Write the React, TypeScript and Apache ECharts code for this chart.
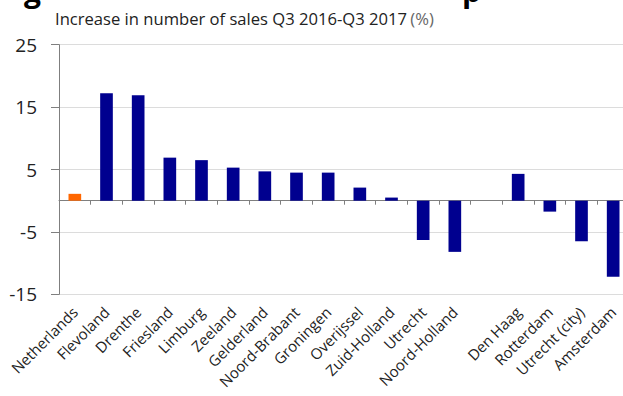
import { useEffect, useRef } from "react";
import * as echarts from "echarts";

const categories = [
  "Netherlands", "Flevoland", "Drenthe", "Friesland", "Limburg", "Zeeland",
  "Gelderland", "Noord-Brabant", "Groningen", "Overijssel", "Zuid-Holland",
  "Utrecht", "Noord-Holland", "", "Den Haag", "Rotterdam", "Utrecht (city)", "Amsterdam",
];
const salesIncrease = [
  1.1, 17.2, 16.9, 6.9, 6.5, 5.3, 4.7, 4.5, 4.5, 2.1, 0.5, -6.3, -8.2, null, 4.3, -1.75, -6.5, -12.2,
];
const highlighted = ["Netherlands"];
const yTicks = [-15, -5, 5, 15, 25];
const subtitleText = "Increase in number of sales Q3 2016-Q3 2017";
const subtitleUnit = "(%)";

const FONT = "'Open Sans', 'Noto Sans', sans-serif";

export default function App() {
  const ref = useRef<HTMLDivElement>(null);
  useEffect(() => {
    if (!ref.current) return;
    const chart = echarts.init(ref.current, undefined, { renderer: "svg" });
    chart.setOption({
      animation: false,
      textStyle: { fontFamily: FONT },
      grid: {
        left: 59,
        right: 1,
        top: 44.7,
        bottom: 101.7,
        containLabel: false,
        outerBoundsMode: "none",
      },
      graphic: [
        {
          type: "text",
          left: 24,
          top: -25,
          style: { text: "g", font: `bold 30px ${FONT}`, fill: "#000" },
        },
        {
          type: "text",
          left: 462,
          top: -25,
          style: { text: "p", font: `bold 30px ${FONT}`, fill: "#000" },
        },
        {
          type: "text",
          left: 55,
          top: 10,
          style: {
            text: `{a|${subtitleText}} {b|${subtitleUnit}}`,
            rich: {
              a: { fontSize: 16.6, fontFamily: FONT, fill: "#222" },
              b: { fontSize: 16.6, fontFamily: FONT, fill: "#666" },
            },
          },
        },
      ],
      xAxis: {
        type: "category",
        data: categories,
        axisLine: { onZero: true, lineStyle: { color: "#7f7f7f", width: 1 } },
        axisTick: { show: true, length: 4, interval: 0, lineStyle: { color: "#7f7f7f" } },
        axisLabel: {
          interval: 0,
          rotate: 45,
          margin: 15,
          fontSize: 15,
          color: "#222",
          fontFamily: FONT,
        },
        splitLine: { show: false },
      },
      yAxis: {
        type: "value",
        min: -15,
        max: 25,
        axisLine: { show: true, lineStyle: { color: "#7f7f7f", width: 1 } },
        axisTick: { show: true, length: 8, customValues: yTicks, lineStyle: { color: "#7f7f7f" } },
        axisLabel: {
          customValues: yTicks,
          margin: 22,
          fontSize: 19,
          color: "#222",
          fontFamily: FONT,
        },
        splitLine: { show: true, lineStyle: { color: "#dcdcdc", width: 1 } },
      },
      series: [
        {
          type: "bar",
          barWidth: "40%",
          itemStyle: { color: "#00008f" },
          data: salesIncrease.map((v, i) =>
            highlighted.includes(categories[i])
              ? { value: v, itemStyle: { color: "#ff6600" } }
              : v
          ),
        },
      ],
    });
    return () => chart.dispose();
  }, []);
  return (
    <div style={{ position: "fixed", left: 0, top: 0, width: 623, height: 396, overflow: "hidden", background: "#fff" }}>
      <div ref={ref} style={{ width: 630, height: 396 }} />
    </div>
  );
}
